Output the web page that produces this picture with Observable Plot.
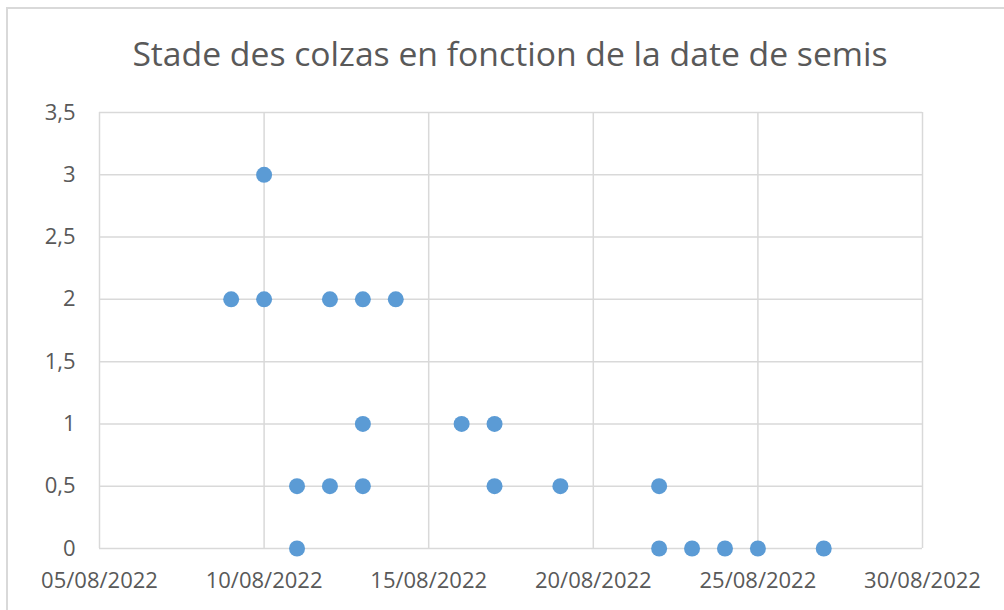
<!DOCTYPE html>
<html>
<head>
<meta charset="utf-8">
<script src="https://cdn.jsdelivr.net/npm/d3@7"></script>
<script src="https://cdn.jsdelivr.net/npm/@observablehq/plot@0.6"></script>
<style>
  html, body { margin: 0; padding: 0; background: #fff; }
  #wrap { position: relative; width: 1004px; height: 610px; overflow: hidden; background: #fff; }
  #frame { position: absolute; left: 6px; top: 7px; width: 1100px; height: 700px;
           border-top: 2px solid #d9d9d9; border-left: 2px solid #d9d9d9; box-sizing: border-box; }
  #title { position: absolute; left: 0; top: 35px; width: 1020px; text-align: center;
           font-family: "Open Sans", sans-serif; font-size: 33.7px; line-height: 36px; color: #595959; }
  #chart { position: absolute; left: 0; top: 90px; }
</style>
</head>
<body>
<div id="wrap">
  <div id="frame"></div>
  <div id="title">Stade des colzas en fonction de la date de semis</div>
  <div id="chart"></div>
</div>
<script>
// Data
const dates = ["2022-08-09","2022-08-10","2022-08-10","2022-08-11","2022-08-11","2022-08-12","2022-08-12",
               "2022-08-13","2022-08-13","2022-08-13","2022-08-14","2022-08-16","2022-08-17","2022-08-17",
               "2022-08-19","2022-08-22","2022-08-22","2022-08-23","2022-08-24","2022-08-25","2022-08-27"];
const stades = [2, 3, 2, 0.5, 0, 2, 0.5,
                2, 1, 0.5, 2, 1, 1, 0.5,
                0.5, 0.5, 0, 0, 0, 0, 0];
const xTickLabels = ["2022-08-05","2022-08-10","2022-08-15","2022-08-20","2022-08-25","2022-08-30"];
const yTicks = [0, 0.5, 1, 1.5, 2, 2.5, 3, 3.5];

const parse = d3.utcParse("%Y-%m-%d");
const data = dates.map((d, i) => ({date: parse(d), stade: stades[i]}));
const xTicks = xTickLabels.map(parse);
const fmtDate = d3.utcFormat("%d/%m/%Y");
const fmtNum = v => String(v).replace(".", ",");

const chart = Plot.plot({
  width: 1004,
  height: 520,
  marginTop: 22,
  marginBottom: 62,
  marginLeft: 99,
  marginRight: 82,
  style: {fontFamily: "'Open Sans', sans-serif", fontSize: "22px", color: "#595959", background: "transparent", overflow: "visible"},
  x: {type: "utc", domain: [xTicks[0], xTicks[xTicks.length - 1]], ticks: xTicks, tickFormat: fmtDate,
      tickSize: 0, tickPadding: 24, label: null},
  y: {domain: [0, 3.5], ticks: yTicks, tickFormat: fmtNum, tickSize: 0, tickPadding: 24, label: null},
  marks: [
    Plot.ruleY(yTicks, {stroke: "#d9d9d9", strokeWidth: 1.5, strokeOpacity: 1}),
    Plot.ruleX(xTicks, {stroke: "#d9d9d9", strokeWidth: 1.5, strokeOpacity: 1}),
    Plot.axisX({ticks: xTicks, tickFormat: fmtDate, tickSize: 0, tickPadding: 24, fill: "#595959", fontSize: 22}),
    Plot.axisY({ticks: yTicks, tickFormat: fmtNum, tickSize: 0, tickPadding: 24, fill: "#595959", fontSize: 22}),
    Plot.dot(data, {x: "date", y: "stade", r: 8, fill: "#5b9bd5", stroke: "none"})
  ]
});
document.getElementById("chart").appendChild(chart);
</script>
</body>
</html>
